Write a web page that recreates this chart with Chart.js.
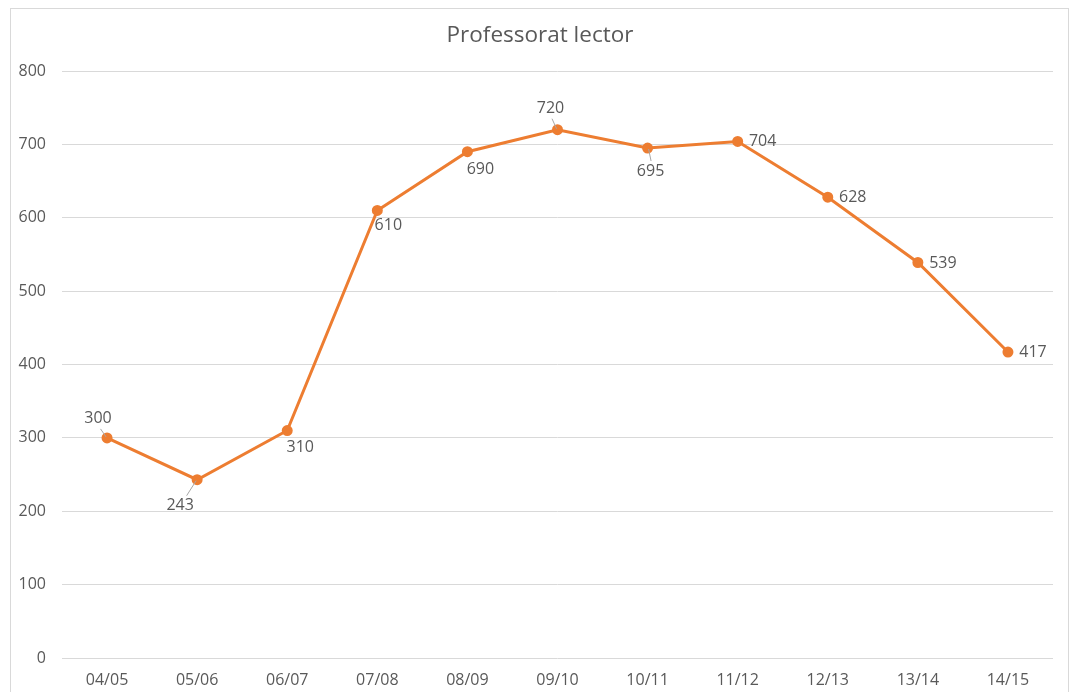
<!DOCTYPE html>
<html>
<head>
<meta charset="utf-8">
<script src="https://cdn.jsdelivr.net/npm/chart.js@4"></script>
<style>
	html, body { margin: 0; padding: 0; background: #fff; }
	#wrap { width: 1072px; height: 692px; }
</style>
</head>
<body>
<div id="wrap"><canvas id="chart" width="1072" height="692"></canvas></div>
<script>
var chartTitle = 'Professorat lector';
var categories = ['04/05', '05/06', '06/07', '07/08', '08/09', '09/10', '10/11', '11/12', '12/13', '13/14', '14/15'];
var values = [300, 243, 310, 610, 690, 720, 695, 704, 628, 539, 417];
var yTicks = [0, 100, 200, 300, 400, 500, 600, 700, 800];

var FONT = '"Open Sans", "Noto Sans", sans-serif';
var TEXT = '#595959';
var ORANGE = '#ED7D31';

// label offsets from the point, and whether a leader line is drawn
var labelPlace = [
	{dx: -9, dy: -19, leader: true},
	{dx: -17, dy: 26, leader: true},
	{dx: 13, dy: 17},
	{dx: 11, dy: 15},
	{dx: 13, dy: 18},
	{dx: -7, dy: -21, leader: true},
	{dx: 3, dy: 23, leader: true},
	{dx: 25, dy: 0},
	{dx: 25, dy: 0},
	{dx: 25, dy: 1},
	{dx: 25, dy: 0}
];

// chart border + title, centred on the whole frame rather than the plot
var frame = {
	id: 'frame',
	beforeDraw: function(chart) {
		var ctx = chart.ctx;
		ctx.save();
		ctx.strokeStyle = '#d9d9d9';
		ctx.lineWidth = 1;
		ctx.strokeRect(10.5, 8.5, 1058, 700);
		ctx.font = '22.5px ' + FONT;
		ctx.fillStyle = TEXT;
		ctx.textAlign = 'center';
		ctx.textBaseline = 'middle';
		ctx.fillText(chartTitle, 540, 36);
		ctx.restore();
	}
};

var dataLabels = {
	id: 'dataLabels',
	afterDatasetsDraw: function(chart) {
		var ctx = chart.ctx;
		var meta = chart.getDatasetMeta(0);
		ctx.save();
		ctx.font = '16px ' + FONT;
		ctx.fillStyle = TEXT;
		ctx.textAlign = 'center';
		ctx.textBaseline = 'middle';
		meta.data.forEach(function(pt, i) {
			var p = labelPlace[i];
			var lx = pt.x + p.dx;
			var ly = pt.y + p.dy;
			if (p.leader) {
				var sx = Math.sign(p.dx), sy = Math.sign(p.dy);
				ctx.strokeStyle = '#a6a6a6';
				ctx.lineWidth = 1;
				ctx.beginPath();
				ctx.moveTo(pt.x + sx * 1, pt.y + sy * 1);
				ctx.lineTo(pt.x + p.dx * 0.5 + sx * 2, pt.y + sy * (Math.abs(p.dy) - 10));
				ctx.stroke();
			}
			ctx.fillText(String(values[i]), lx, ly);
		});
		ctx.restore();
	}
};

new Chart(document.getElementById('chart'), {
	type: 'line',
	data: {
		labels: categories,
		datasets: [{
			data: values,
			borderColor: ORANGE,
			backgroundColor: ORANGE,
			borderWidth: 3,
			pointRadius: 4,
			pointHoverRadius: 4,
			pointBackgroundColor: ORANGE,
			pointBorderColor: ORANGE,
			tension: 0
		}]
	},
	options: {
		responsive: false,
		animation: false,
		events: [],
		layout: {padding: {left: 0, right: 19, top: 71, bottom: 0}},
		plugins: {
			legend: {display: false},
			tooltip: {enabled: false},
			title: {display: false}
		},
		scales: {
			x: {
				offset: true,
				grid: {display: false, drawTicks: false},
				border: {display: false},
				ticks: {color: TEXT, font: {family: FONT, size: 16}, padding: 13, maxRotation: 0},
				afterFit: function(scale) { scale.height = 34; }
			},
			y: {
				min: 0,
				max: 800,
				afterBuildTicks: function(scale) {
					scale.ticks = yTicks.map(function(v) { return {value: v}; });
				},
				grid: {color: '#d9d9d9', drawTicks: false, lineWidth: 1},
				border: {display: false},
				ticks: {color: TEXT, font: {family: FONT, size: 16}, padding: 16},
				afterFit: function(scale) { scale.width = 62; }
			}
		}
	},
	plugins: [frame, dataLabels]
});
</script>
</body>
</html>
